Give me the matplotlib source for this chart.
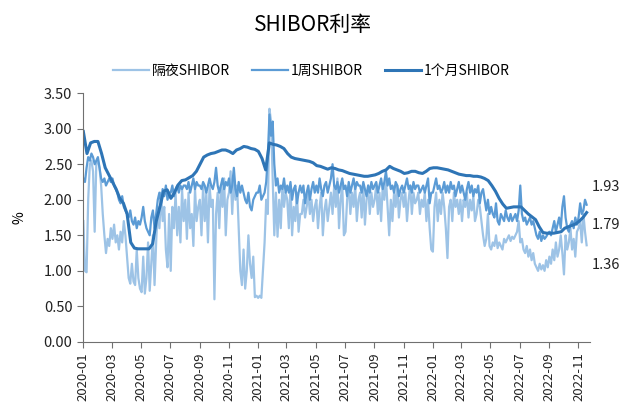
import numpy as np
import pandas as pd
import matplotlib
matplotlib.use("Agg")
import matplotlib.pyplot as plt
import matplotlib.dates as mdates

plt.rcParams['font.family'] = ['Noto Sans CJK SC', 'DejaVu Sans']

# 隔夜SHIBOR, ~9 readings per month, 2020-01 .. 2022-11
overnight = [
    1.70, 1.00, 0.98, 2.00, 2.50, 2.55, 2.40, 1.55, 2.50,   # 2020-01
    2.55, 2.45, 2.20, 1.80, 1.50, 1.25, 1.45, 1.35, 1.60,
    1.45, 1.65, 1.40, 1.50, 1.30, 1.55, 1.40, 1.70, 1.50,
    1.20, 0.90, 0.82, 1.10, 0.85, 0.80, 1.30, 0.90, 0.75,
    0.70, 1.20, 0.68, 0.90, 1.40, 0.72, 1.10, 1.50, 0.80,
    1.40, 1.90, 1.60, 2.10, 1.70, 1.90, 1.30, 1.05, 1.80,
    1.00, 1.90, 1.60, 2.10, 1.50, 1.90, 1.40, 2.15, 1.70,
    2.00, 1.45, 2.10, 1.60, 1.80, 1.35, 2.15, 1.70, 1.90,
    2.00, 1.50, 2.20, 1.70, 2.10, 1.40, 2.20, 1.90, 2.00,
    0.60, 1.80, 2.10, 1.60, 2.20, 1.90, 2.30, 1.50, 2.00,
    2.10, 2.40, 1.80, 2.30, 2.00, 2.20, 1.60, 1.00, 0.80,
    1.30, 0.75, 1.00, 1.50, 1.10, 0.90, 1.20, 0.63, 0.65,
    0.62, 0.65, 0.62, 1.00, 1.40, 2.00, 1.80, 3.28, 3.10,   # 2021-01
    2.30, 1.50, 2.10, 1.48, 2.00, 1.60, 2.20, 1.90, 2.10,
    2.00, 1.60, 2.20, 1.50, 1.90, 1.70, 2.10, 1.55, 1.80,
    1.80, 2.00, 1.75, 1.90, 2.10, 1.80, 2.00, 1.70, 1.90,
    2.00, 1.60, 1.90, 2.10, 1.50, 1.85, 2.00, 1.70, 1.90,
    2.10, 1.80, 2.20, 1.90, 2.30, 1.60, 2.00, 2.20, 1.50,
    1.55, 2.00, 2.20, 1.80, 2.10, 1.90, 2.20, 1.70, 2.00,
    2.10, 1.75, 2.20, 1.65, 2.00, 2.20, 1.80, 2.10, 1.90,
    2.00, 2.20, 1.80, 2.10, 1.70, 2.20, 2.00, 2.30, 1.90,
    1.50, 2.00, 1.70, 2.10, 1.90, 2.20, 1.75, 2.00, 2.10,
    1.90, 2.10, 1.70, 2.00, 2.20, 1.80, 2.10, 1.95, 2.00,
    2.10, 1.80, 2.00, 1.90, 2.10, 1.70, 2.00, 1.60, 1.30,
    1.27, 1.90, 2.10, 1.70, 2.00, 1.80, 2.10, 1.90, 1.60,   # 2022-01
    1.18, 1.90, 2.00, 1.70, 2.10, 1.90, 2.00, 1.80, 2.00,
    1.70, 2.00, 1.90, 2.10, 1.75, 2.00, 1.85, 2.05, 1.70,
    1.80, 2.00, 1.90, 1.70, 1.50, 1.35, 1.45, 1.80, 1.35,
    1.30, 1.40, 1.35, 1.50, 1.32, 1.40, 1.35, 1.30, 1.45,
    1.40, 1.45, 1.50, 1.42, 1.48, 1.45, 1.50, 1.55, 1.70,
    1.40, 1.45, 1.30, 1.25, 1.35, 1.20, 1.30, 1.15, 1.25,
    1.10, 1.05, 1.00, 1.10, 1.02, 1.08, 1.00, 1.15, 1.05,
    1.20, 1.10, 1.30, 1.15, 1.40, 1.20, 1.30, 1.50, 1.25,
    0.95, 1.50, 1.30, 1.40, 1.60, 1.30, 1.45, 1.20, 1.55,
    1.60, 1.70, 1.40, 1.80, 1.55, 1.36,
]

# 1周SHIBOR
week1 = [
    2.30, 2.25, 2.45, 2.60, 2.55, 2.65, 2.60, 2.50, 2.55,   # 2020-01
    2.60, 2.45, 2.30, 2.25, 2.30, 2.20, 2.25, 2.30, 2.25,
    2.30, 2.20, 2.15, 2.10, 2.00, 1.95, 2.05, 1.90, 1.85,
    1.80, 1.75, 1.85, 1.70, 1.65, 1.75, 1.60, 1.70, 1.65,
    1.75, 1.90, 1.70, 1.60, 1.55, 1.50, 1.75, 1.85, 1.60,
    1.80, 2.00, 2.10, 1.95, 2.15, 2.05, 2.20, 2.00, 2.10,
    2.10, 2.20, 2.05, 2.15, 2.20, 2.10, 2.20, 2.15, 2.20,
    2.20, 2.15, 2.25, 2.10, 2.20, 2.30, 2.15, 2.25, 2.20,
    2.20, 2.15, 2.25, 2.20, 2.10, 2.20, 2.30, 2.20, 2.15,
    2.25, 2.45, 2.20, 2.10, 2.20, 2.30, 2.15, 2.25, 2.20,
    2.30, 2.10, 2.20, 2.45, 2.15, 2.05, 2.25, 2.10, 2.20,
    2.10, 2.00, 1.95, 2.10, 1.90, 1.85, 2.00, 2.05, 2.10,
    2.10, 2.20, 2.00, 2.05, 2.10, 2.25, 2.60, 3.20, 2.90,   # 2021-01
    3.10, 2.50, 2.20, 2.30, 2.10, 2.20, 2.15, 2.30, 2.10,
    2.20, 2.10, 2.25, 2.00, 2.15, 2.20, 1.95, 2.10, 2.20,
    2.10, 2.20, 1.95, 2.10, 2.20, 2.00, 2.15, 2.25, 2.10,
    2.20, 2.10, 2.30, 2.15, 2.05, 2.20, 2.25, 2.10, 2.20,
    2.30, 2.50, 2.20, 2.15, 2.25, 2.10, 2.20, 2.30, 2.15,
    2.20, 2.05, 2.25, 2.10, 2.20, 2.30, 2.15, 2.25, 2.20,
    2.20, 2.10, 2.25, 2.15, 2.05, 2.20, 2.10, 2.25, 2.15,
    2.20, 2.25, 2.10, 2.20, 2.30, 2.15, 2.25, 2.40, 2.20,
    2.30, 2.15, 2.20, 2.10, 2.25, 2.20, 2.05, 2.15, 2.20,
    2.10, 2.20, 2.30, 2.15, 2.20, 2.10, 2.25, 2.15, 2.20,
    2.20, 2.10, 2.15, 2.20, 2.10, 2.20, 2.30, 1.95, 2.10,
    2.10, 2.20, 2.30, 2.15, 2.20, 2.10, 2.15, 2.25, 2.10,   # 2022-01
    2.20, 2.10, 2.25, 2.15, 2.20, 2.05, 2.15, 2.25, 2.10,
    2.20, 2.10, 2.00, 2.15, 2.25, 2.10, 2.20, 2.05, 2.15,
    2.10, 2.20, 1.95, 2.10, 2.15, 2.00, 1.85, 2.00, 1.80,
    1.90, 1.80, 1.75, 1.95, 1.70, 1.65, 1.80, 1.75, 1.70,
    1.85, 1.75, 1.70, 1.80, 1.70, 1.75, 1.80, 1.70, 1.85,
    2.20, 1.80, 1.70, 1.75, 1.65, 1.70, 1.75, 1.65, 1.70,
    1.60, 1.50, 1.45, 1.55, 1.42, 1.50, 1.45, 1.48, 1.52,
    1.55, 1.50, 1.60, 1.70, 1.55, 1.65, 1.75, 1.60, 1.90,
    2.05, 1.75, 1.60, 1.55, 1.65, 1.70, 1.60, 1.75, 1.65,
    1.75, 1.95, 1.80, 1.85, 2.00, 1.93,
]

# 1个月SHIBOR, ~4 readings per month
month1 = [
    2.96, 2.65, 2.80, 2.82,   # 2020-01
    2.82, 2.65, 2.45, 2.35,
    2.25, 2.15, 2.02, 1.95,
    1.80, 1.40, 1.32, 1.31,
    1.31, 1.31, 1.31, 1.38,
    1.70, 1.90, 2.12, 2.14,
    2.02, 2.10, 2.21, 2.27,
    2.28, 2.31, 2.34, 2.40,
    2.50, 2.60, 2.63, 2.65,
    2.66, 2.68, 2.70, 2.70,
    2.68, 2.65, 2.70, 2.72,
    2.75, 2.74, 2.72, 2.71,
    2.68, 2.58, 2.42, 2.80,   # 2021-01
    2.78, 2.77, 2.75, 2.72,
    2.65, 2.60, 2.58, 2.57,
    2.56, 2.55, 2.54, 2.52,
    2.48, 2.47, 2.45, 2.43,
    2.45, 2.44, 2.42, 2.41,
    2.39, 2.37, 2.36, 2.35,
    2.34, 2.33, 2.33, 2.34,
    2.35, 2.37, 2.40, 2.42,
    2.47, 2.44, 2.42, 2.40,
    2.37, 2.38, 2.40, 2.40,
    2.38, 2.37, 2.40, 2.44,
    2.45, 2.45, 2.44, 2.43,   # 2022-01
    2.42, 2.40, 2.38, 2.36,
    2.35, 2.34, 2.34, 2.33,
    2.33, 2.32, 2.30, 2.27,
    2.20, 2.12, 2.02, 1.94,
    1.88, 1.89, 1.90, 1.90,
    1.90, 1.85, 1.80, 1.76,
    1.72, 1.62, 1.54, 1.53,
    1.53, 1.53, 1.54, 1.55,
    1.60, 1.62, 1.64, 1.66,
    1.70, 1.75, 1.82,
]

series_names = ['隔夜SHIBOR', '1周SHIBOR', '1个月SHIBOR']
end_labels = ['1.36', '1.93', '1.79']
start_date = pd.Timestamp('2020-01-02')
end_date = pd.Timestamp('2022-11-18')

colors = ['#9dc3e6', '#5b9bd5', '#2e75b6']
widths = [1.6, 1.6, 2.2]
label_offsets = [-14, 13, -9]


def dates_for(values):
    return pd.to_datetime(np.linspace(start_date.value, end_date.value, len(values)))


fig = plt.figure(figsize=(6.23, 4.12), dpi=100)
ax = fig.add_axes([0.133, 0.170, 0.814, 0.604])

all_series = [overnight, week1, month1]
for vals, name, c, lw in zip(all_series, series_names, colors, widths):
    ax.plot(dates_for(vals), vals, color=c, lw=lw, label=name)

for vals, txt, off in zip(all_series, end_labels, label_offsets):
    ax.annotate(txt, xy=(dates_for(vals)[-1], vals[-1]), xytext=(4, off),
                textcoords='offset points', fontsize=10.5, color='#222222',
                va='center', ha='left', annotation_clip=False)

ax.set_ylim(0, 3.5)
ax.set_yticks(np.arange(0, 3.51, 0.5))
ax.yaxis.set_major_formatter(plt.FormatStrFormatter('%.2f'))
ax.set_xlim(pd.Timestamp('2020-01-01'), pd.Timestamp('2022-11-25'))
ax.xaxis.set_major_locator(mdates.MonthLocator(bymonth=[1, 3, 5, 7, 9, 11]))
ax.xaxis.set_major_formatter(mdates.DateFormatter('%Y-%m'))
plt.setp(ax.get_xticklabels(), rotation=90, fontsize=9.5)
plt.setp(ax.get_yticklabels(), fontsize=10.5)
ax.set_ylabel('%', fontsize=10, labelpad=12)

for s in ['top', 'right']:
    ax.spines[s].set_visible(False)
for s in ['left', 'bottom']:
    ax.spines[s].set_color('#707070')
ax.tick_params(direction='out', color='#707070', length=4, colors='#222222')

fig.suptitle('SHIBOR利率', x=0.503, y=0.965, fontsize=15)
fig.legend(loc='center', bbox_to_anchor=(0.5, 0.828), ncol=3, frameon=False,
           fontsize=10, handlelength=2.6, columnspacing=1.6, handletextpad=0.2)

fig.savefig('out.png', dpi=100)
